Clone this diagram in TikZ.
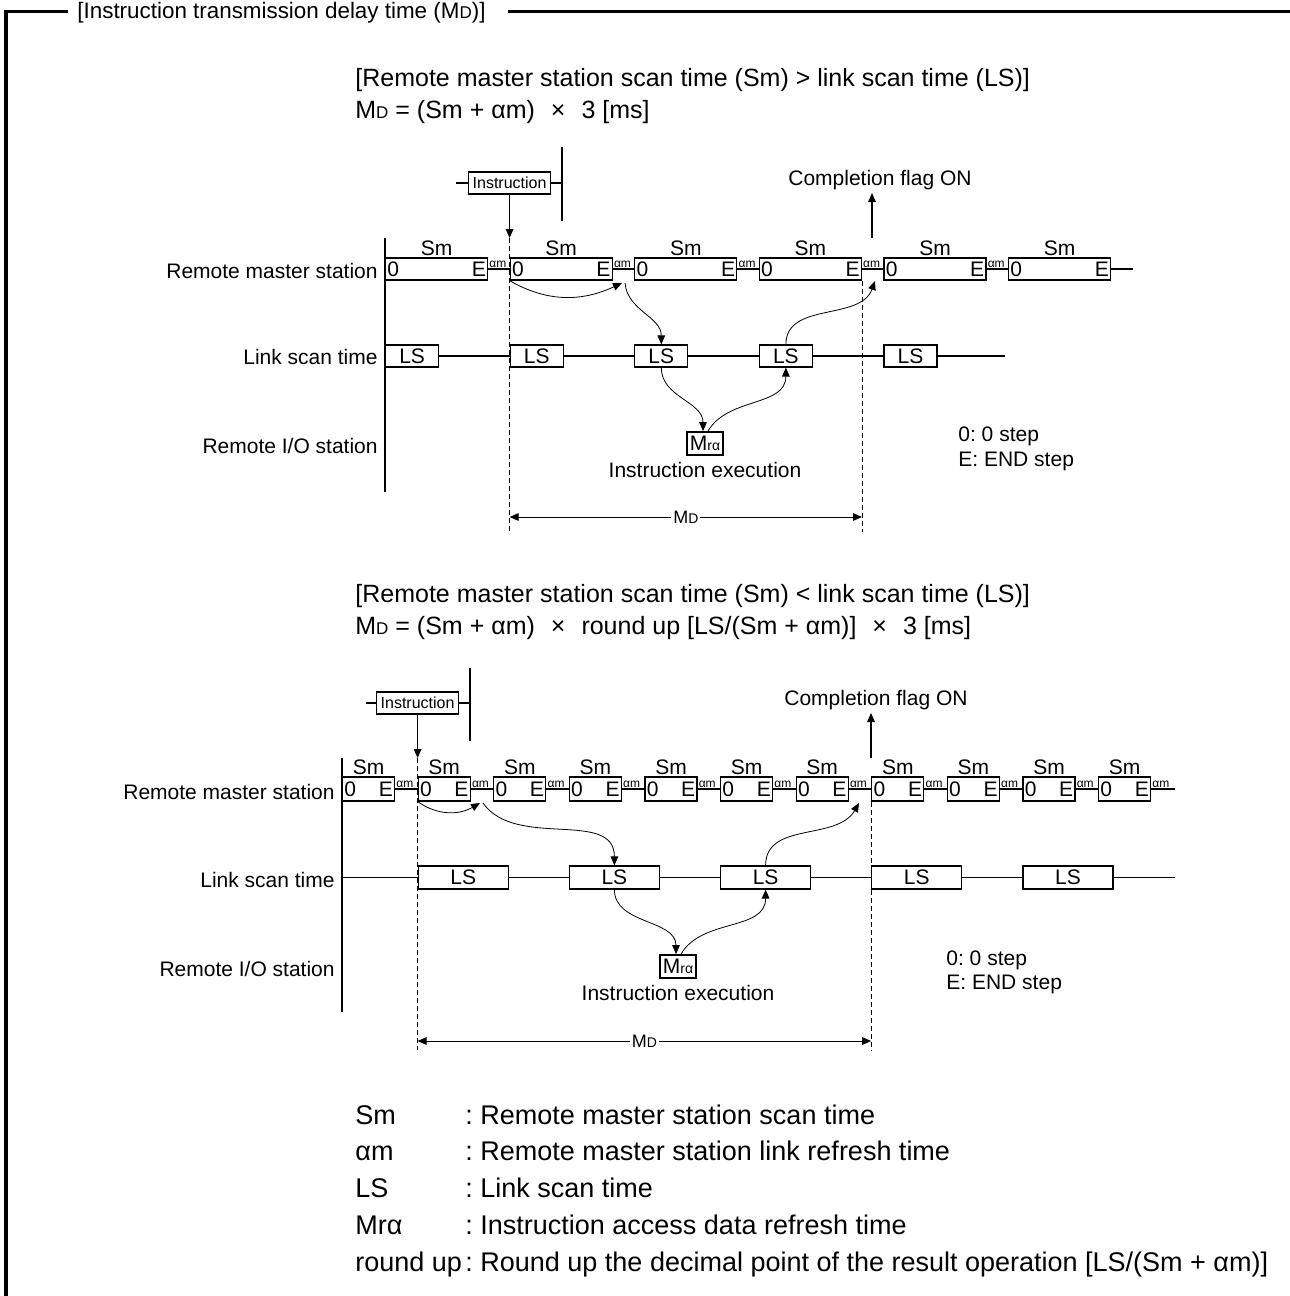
\documentclass[tikz,border=0pt]{standalone}
\usepackage{fontspec}
\setmainfont{Liberation Sans}
\usetikzlibrary{arrows.meta,positioning}
\frenchspacing
\newcommand{\MDsub}{M{\fontsize{7}{8}\selectfont D}}
\newcommand{\MDbig}{M{\fontsize{8.5}{9}\selectfont D}}
\newcommand{\Mrsub}{M{\fontsize{7}{8}\selectfont rα}}
\newcommand{\xx}{\hspace{8pt}×\hspace{8pt}}

\begin{document}
\begin{tikzpicture}[x=0.5pt, y=0.5pt, >={Triangle[length=4.5pt,width=3.8pt]}]

\tikzset{
  every node/.style={font=\fontsize{10.5}{12.6}\selectfont, inner sep=0pt},
  head/.style={anchor=base west, font=\fontsize{12.5}{15}\selectfont},
  legend/.style={anchor=base west, font=\fontsize{13.5}{16}\selectfont},
  frame/.style={draw=black, line width=1.8pt},
  axis/.style={draw=black, line width=1.1pt},
  tline/.style={draw=black, line width=0.9pt},
  stub/.style={draw=black, line width=0.6pt},
  bar/.style={draw=black, line width=1pt},
  flow/.style={draw=black, line width=0.4pt, ->},
  guide/.style={draw=black, line width=0.5pt, dash pattern=on 2.5pt off 1.5pt},
  scan/.style={draw, fill=white, line width=0.6pt, anchor=west,
    label={[anchor=west, inner sep=1pt]west:0},
    label={[anchor=east, inner sep=1pt]east:E},
    label={[anchor=south, yshift=0.8pt]north:Sm}},
  scanA/.style={scan, minimum width=51pt, minimum height=11pt},
  scanB/.style={scan, minimum width=26pt, minimum height=12pt},
  am/.style={label={[anchor=south west, inner sep=0.4pt, font=\fontsize{6}{7}\selectfont]east:αm}},
  ls/.style={draw, fill=white, line width=0.6pt, anchor=west},
  lsA/.style={ls, minimum width=26.5pt, minimum height=11pt},
  lsB/.style={ls, minimum width=45pt, minimum height=11.5pt},
  instr/.style={draw, line width=0.6pt, font=\fontsize{8}{9}\selectfont, minimum height=11pt, inner xsep=2pt},
  mra/.style={draw, line width=0.9pt, minimum width=18pt, minimum height=11.5pt},
  rowlab/.style={anchor=east},
  txt/.style={anchor=base west},
}

\useasboundingbox (0,0) rectangle (1290,-1296);

% frame and title
\node[txt, font=\fontsize{11.2}{14}\selectfont] (title) at (77,-18) {[Instruction transmission delay time (\MDbig)]};
\draw[frame] (6,-1296) -- (6,-11.5) -- (68,-11.5);
\draw[frame] (508,-11.5) -- (1290,-11.5);

% ---------- Sm > LS ----------
\node[head] (h1) at (355,-86.5) {[Remote master station scan time (Sm) > link scan time (LS)]};
\node[head] (f1) at (355,-118.5) {\MDbig{} = (Sm + αm)\xx 3 [ms]};

% axis and row labels
\draw[axis] (385,-238) -- (385,-492);
\node[rowlab] (r1) at (378,-271) {Remote master station};
\node[rowlab] (r2) at (378,-357) {Link scan time};
\node[rowlab] (r3) at (378,-446) {Remote I/O station};

% remote master station scans
\node[scanA, am] (a1) at (385,-269) {};
\node[scanA, am] (a2) at (509.6,-269) {};
\node[scanA, am] (a3) at (634.2,-269) {};
\node[scanA, am] (a4) at (758.8,-269) {};
\node[scanA, am] (a5) at (883.4,-269) {};
\node[scanA] (a6) at (1008,-269) {};
\coordinate (aend) at (1133,-269);
\foreach \i/\j in {1/2,2/3,3/4,4/5,5/6} \draw[tline] (a\i) -- (a\j);
\draw[tline] (a6) -- (aend);

% link scans
\node[lsA] (l1) at (385,-356) {LS};
\node[lsA] (l2) at (509.6,-356) {LS};
\node[lsA] (l3) at (634.2,-356) {LS};
\node[lsA] (l4) at (758.8,-356) {LS};
\node[lsA] (l5) at (883.4,-356) {LS};
\coordinate (lend) at (1005,-356);
\foreach \i/\j in {1/2,2/3,3/4,4/5} \draw[tline] (l\i) -- (l\j);
\draw[tline] (l5) -- (lend);

% instruction
\node[instr] (i1) at (509.6,-183) {Instruction};
\coordinate (i1l) at (456,-183);
\coordinate (i1t) at (562,-147);
\coordinate (i1b) at (562,-221);
\coordinate (s1) at (509.6,-238);
\coordinate (s1e) at (509.6,-532);
\draw[stub] (i1l) -- (i1);
\draw[stub] (i1) -- (i1 -| i1t);
\draw[bar] (i1t) -- (i1b);
\draw[->, line width=0.6pt] (i1) -- (s1);

% completion flag
\node[anchor=base] (c1) at (880,-185.5) {Completion flag ON};
\coordinate (c1a) at (872,-238);
\coordinate (c1b) at (872,-193);
\draw[->, line width=0.6pt] (c1a) -- (c1b);

% guides and MD span
\draw[guide] (s1) -- (s1e);
\draw[guide] (a4.south east) -- (a4.south east |- s1e);
\draw[<->, line width=0.5pt] (s1 |- 0,-517) -- node[fill=white, inner xsep=1pt, font=\fontsize{9}{10}\selectfont] (md1) {\MDsub} (a4.south east |- 0,-517);

% instruction execution
\node[mra] (m1) at (705,-443.5) {\Mrsub};
\node[below=3pt of m1] (x1) {Instruction execution};

% step legend
\node[txt] (k1) at (958,-441.5) {0: 0 step};
\node[txt] (k2) at (958,-466.5) {E: END step};

% data flow
\coordinate (g2) at (622,-283);
\coordinate (g2b) at (625,-283);
\coordinate (g4) at (875,-281);
\draw[flow] (a2.south west) to[out=-30,in=205] (g2);
\draw[flow] (g2b) to[out=-85,in=90] (l3.north);
\draw[flow] (l3.south) to[out=-90,in=90] ([xshift=-1pt]m1.north);
\draw[flow] ([xshift=1.5pt]m1.north) to[out=60,in=-90] (l4.south);
\draw[flow] (l4.north) to[out=90,in=-110] (g4);

% ---------- Sm < LS ----------
\node[head] (h2) at (355,-602.5) {[Remote master station scan time (Sm) < link scan time (LS)]};
\node[head] (f2) at (355,-634.5) {\MDbig{} = (Sm + αm)\xx round up [LS/(Sm + αm)]\xx 3 [ms]};

% axis and row labels
\draw[axis] (342,-758) -- (342,-1012);
\node[rowlab] (q1) at (335,-792) {Remote master station};
\node[rowlab] (q2) at (335,-880) {Link scan time};
\node[rowlab] (q3) at (335,-969) {Remote I/O station};

% remote master station scans
\node[scanB, am] (b1) at (342,-789) {};
\node[scanB, am] (b2) at (417.6,-789) {};
\node[scanB, am] (b3) at (493.2,-789) {};
\node[scanB, am] (b4) at (568.8,-789) {};
\node[scanB, am] (b5) at (644.4,-789) {};
\node[scanB, am] (b6) at (720,-789) {};
\node[scanB, am] (b7) at (795.6,-789) {};
\node[scanB, am] (b8) at (871.2,-789) {};
\node[scanB, am] (b9) at (946.8,-789) {};
\node[scanB, am] (b10) at (1022.4,-789) {};
\node[scanB, am] (b11) at (1098,-789) {};
\coordinate (bend) at (1175,-789);
\foreach \i/\j in {1/2,2/3,3/4,4/5,5/6,6/7,7/8,8/9,9/10,10/11} \draw[tline] (b\i) -- (b\j);
\draw[tline] (b11) -- (bend);

% link scans
\coordinate (L0) at (342,-877.5);
\node[lsB] (L1) at (417.6,-877.5) {LS};
\node[lsB] (L2) at (568.8,-877.5) {LS};
\node[lsB] (L3) at (720,-877.5) {LS};
\node[lsB] (L4) at (871.2,-877.5) {LS};
\node[lsB] (L5) at (1022.4,-877.5) {LS};
\coordinate (Lend) at (1175,-877.5);
\draw[tline] (L0) -- (L1);
\foreach \i/\j in {1/2,2/3,3/4,4/5} \draw[tline] (L\i) -- (L\j);
\draw[tline] (L5) -- (Lend);

% instruction
\node[instr] (i2) at (417.6,-703) {Instruction};
\coordinate (i2l) at (366,-703);
\coordinate (i2t) at (470,-668);
\coordinate (i2b) at (470,-741);
\coordinate (s2) at (417.6,-758);
\coordinate (s2e) at (417.6,-1050);
\draw[stub] (i2l) -- (i2);
\draw[stub] (i2) -- (i2 -| i2t);
\draw[bar] (i2t) -- (i2b);
\draw[->, line width=0.6pt] (i2) -- (s2);

% completion flag
\node[anchor=base] (c2) at (876,-705.5) {Completion flag ON};
\coordinate (c2a) at (871,-758);
\coordinate (c2b) at (871,-713);
\draw[->, line width=0.6pt] (c2a) -- (c2b);

% guides and MD span
\draw[guide] (s2) -- (s2e);
\draw[guide] (b8.south west) -- (b8.south west |- s2e);
\draw[<->, line width=0.5pt] (s2 |- 0,-1041) -- node[fill=white, inner xsep=1pt, font=\fontsize{9}{10}\selectfont] (md2) {\MDsub} (b8.south west |- 0,-1041);

% instruction execution
\node[mra] (m2) at (678,-966.5) {\Mrsub};
\node[below=3pt of m2] (x2) {Instruction execution};

% step legend
\node[txt] (k3) at (946,-965.5) {0: 0 step};
\node[txt] (k4) at (946,-989.5) {E: END step};

% data flow
\coordinate (h2a) at (480,-803);
\coordinate (h2b) at (483,-803);
\coordinate (h7) at (859,-803);
\draw[flow] (b2.south west) to[out=-35,in=210] (h2a);
\draw[flow] (h2b) to[out=-55,in=90] (L2.north);
\draw[flow] (L2.south) to[out=-90,in=90] ([xshift=-1pt]m2.north);
\draw[flow] ([xshift=1.5pt]m2.north) to[out=60,in=-90] (L3.south);
\draw[flow] (L3.north) to[out=90,in=-120] (h7);

% symbol legend
\node[legend] (n1) at (355,-1124.5) {Sm};
\node[legend] (n2) at (355,-1160.5) {αm};
\node[legend] (n3) at (355,-1197.5) {LS};
\node[legend] (n4) at (355,-1234.5) {Mrα};
\node[legend] (n5) at (355,-1271.5) {round up};
\node[legend] (t1) at (465,-1124.5) {: Remote master station scan time};
\node[legend] (t2) at (465,-1160.5) {: Remote master station link refresh time};
\node[legend] (t3) at (465,-1197.5) {: Link scan time};
\node[legend] (t4) at (465,-1234.5) {: Instruction access data refresh time};
\node[legend] (t5) at (465,-1271.5) {: Round up the decimal point of the result operation [LS/(Sm + αm)]};

\end{tikzpicture}
\end{document}
